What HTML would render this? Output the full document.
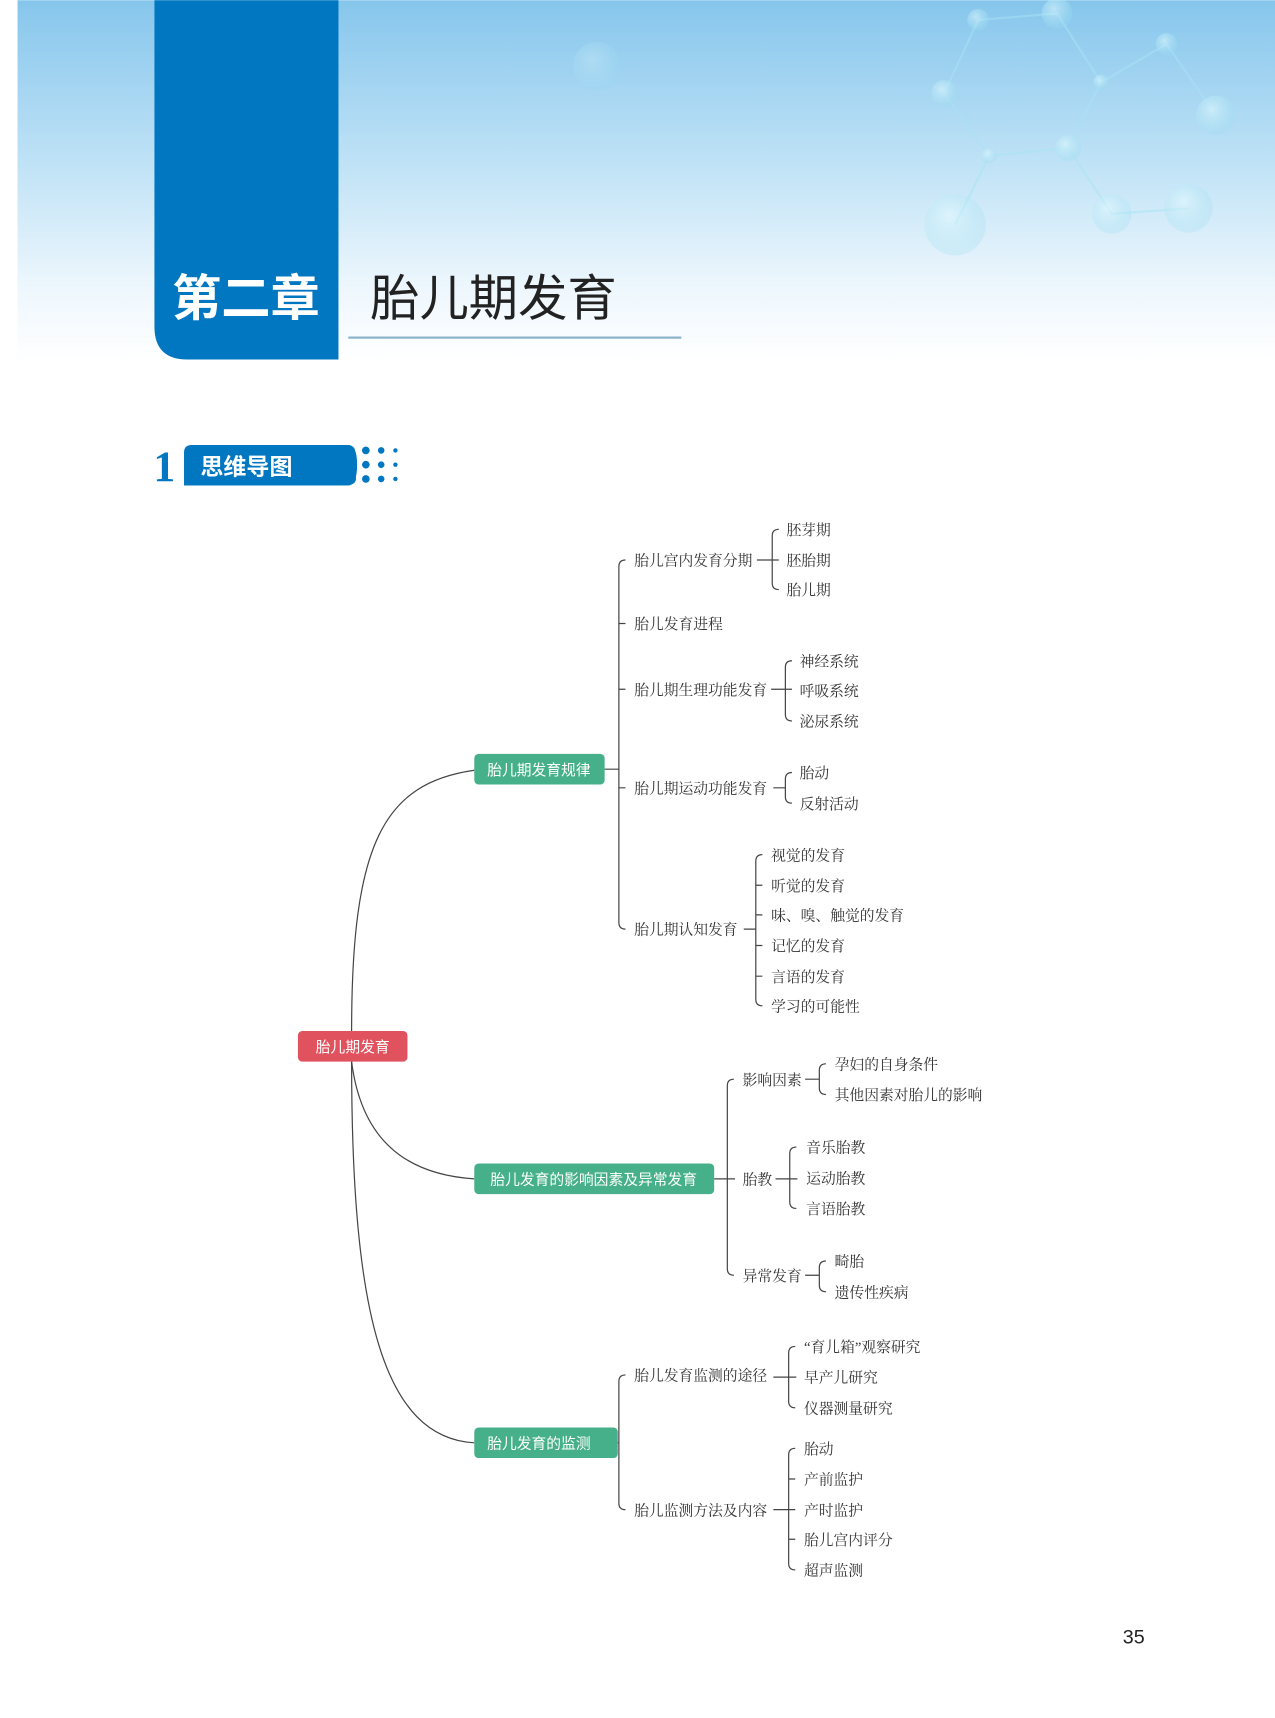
<!DOCTYPE html>
<html><head><meta charset="utf-8"><style>
html,body{margin:0;padding:0;background:#fff;}
svg{display:block;}
.t{font-family:"Liberation Serif","Noto Serif CJK SC",serif;font-size:13.5px;fill:#333;dominant-baseline:central;transform:translateY(1.5px);}
.w{font-family:"Liberation Sans","Noto Sans CJK SC",sans-serif;font-size:13.5px;fill:#fff;dominant-baseline:central;text-anchor:middle;transform:translateY(1.5px);}
.l{fill:none;stroke:#444;stroke-width:1.1;}
</style></head><body>
<svg width="1275" height="1718" viewBox="0 0 1164 1568" xmlns="http://www.w3.org/2000/svg">
<defs>
<linearGradient id="hg" x1="0" y1="0" x2="0" y2="1">
<stop offset="0" stop-color="#86c6ec"/><stop offset="0.45" stop-color="#bfe2f6"/><stop offset="0.8" stop-color="#eef7fd"/><stop offset="1" stop-color="#ffffff"/>
</linearGradient>
<radialGradient id="bub" cx="0.4" cy="0.35" r="0.6"><stop offset="0" stop-color="#e8fbff"/><stop offset="1" stop-color="#9ee0f2" stop-opacity="0.5"/></radialGradient>
</defs>
<rect x="16" y="0" width="1148" height="330" fill="url(#hg)"/>
<g stroke="#a8e4f4" stroke-width="2" fill="none" opacity="0.5">
<path d="M893,18 L965,12 L1005,75 L975,135 L903,142 L862,85 Z"/>
<path d="M1005,75 L1065,40 L1110,105"/>
<path d="M975,135 L1015,195 L1085,190"/>
<path d="M903,142 L872,205"/>
</g>
<g fill="url(#bub)" opacity="0.55">
<circle cx="893" cy="18" r="10"/><circle cx="965" cy="12" r="14"/><circle cx="1005" cy="75" r="7"/><circle cx="975" cy="135" r="12"/><circle cx="903" cy="142" r="7"/><circle cx="862" cy="85" r="12"/><circle cx="1065" cy="40" r="10"/><circle cx="1110" cy="105" r="18"/><circle cx="1015" cy="195" r="18"/><circle cx="872" cy="205" r="28"/><circle cx="1085" cy="190" r="22"/><circle cx="545" cy="60" r="22" opacity="0.5"/>
</g>
<path d="M141,0 H309 V328 H171 Q141,328 141,298 Z" fill="#0077c0"/>
<text x="157" y="288" font-family="Liberation Sans,Noto Sans CJK SC,sans-serif" font-weight="bold" font-size="45" fill="#fff">第二章</text>
<text x="338" y="288" font-family="Liberation Sans,Noto Sans CJK SC,sans-serif" font-size="45" fill="#222">胎儿期发育</text>
<rect x="318" y="307" width="304" height="2" fill="#8ab2c8"/>
<text x="140" y="439" font-family="Liberation Serif,serif" font-weight="bold" font-size="40" fill="#0077c0">1</text>
<path d="M175,406 H318 Q326,406 326,424 Q326,443 318,443 H168 V413 Q168,406 175,406 Z" fill="#0077c0"/>
<text x="183" y="433" font-family="Liberation Sans,Noto Sans CJK SC,sans-serif" font-weight="bold" font-size="21" fill="#fff">思维导图</text>
<g fill="#0077c0">
<circle cx="320" cy="411" r="4"/><circle cx="320" cy="424" r="5"/><circle cx="320" cy="437" r="5"/>
<circle cx="334" cy="411" r="3.5"/><circle cx="334" cy="424" r="3.5"/><circle cx="334" cy="437" r="3.5"/>
<circle cx="348" cy="411" r="3"/><circle cx="348" cy="424" r="3"/><circle cx="348" cy="437" r="3"/>
<circle cx="361" cy="411" r="2"/><circle cx="361" cy="424" r="2"/><circle cx="361" cy="437" r="2"/>
</g>

<path class="l" d="M321,941 C321,770 350,715 433,703"/>
<path class="l" d="M321,969 C330,1040 370,1072 433,1076"/>
<path class="l" d="M321,969 C321,1200 350,1312 433,1317"/>

<rect x="272" y="941" width="100" height="28" rx="4" fill="#e0525e"/>
<text class="w" x="322" y="955">胎儿期发育</text>
<rect x="433" y="688" width="119" height="28" rx="4" fill="#45b08a"/>
<text class="w" x="492" y="702">胎儿期发育规律</text>
<rect x="433" y="1062" width="219" height="28" rx="4" fill="#45b08a"/>
<text class="w" x="542" y="1076">胎儿发育的影响因素及异常发育</text>
<rect x="433" y="1303" width="131" height="28" rx="4" fill="#45b08a"/>
<text class="w" x="492" y="1317">胎儿发育的监测</text>

<path class="l" d="M552,702 H565 M571,511 Q565,511 565,517 V842 Q565,848 571,848 M565,569 H571 M565,629 H571 M565,719 H571"/>
<text class="t" x="579" y="511">胎儿宫内发育分期</text>
<text class="t" x="579" y="569">胎儿发育进程</text>
<text class="t" x="579" y="629">胎儿期生理功能发育</text>
<text class="t" x="579" y="719">胎儿期运动功能发育</text>
<text class="t" x="579" y="848">胎儿期认知发育</text>

<path class="l" d="M691,511 H711 M711,483 Q705,483 705,489 V532 Q705,538 711,538"/>
<text class="t" x="718" y="483">胚芽期</text><text class="t" x="718" y="511">胚胎期</text><text class="t" x="718" y="538">胎儿期</text>

<path class="l" d="M704,629 H723 M723,603 Q717,603 717,609 V652 Q717,658 723,658"/>
<text class="t" x="730" y="603">神经系统</text><text class="t" x="730" y="630">呼吸系统</text><text class="t" x="730" y="658">泌尿系统</text>

<path class="l" d="M706,719 H717 M723,705 Q717,705 717,711 V727 Q717,733 723,733"/>
<text class="t" x="730" y="705">胎动</text><text class="t" x="730" y="733">反射活动</text>

<path class="l" d="M679,848 H690 M696,780 Q690,780 690,786 V912 Q690,918 696,918 M690,808 H696 M690,835 H696 M690,863 H696 M690,891 H696"/>
<text class="t" x="704" y="780">视觉的发育</text><text class="t" x="704" y="808">听觉的发育</text><text class="t" x="704" y="835">味、嗅、触觉的发育</text><text class="t" x="704" y="863">记忆的发育</text><text class="t" x="704" y="891">言语的发育</text><text class="t" x="704" y="918">学习的可能性</text>

<path class="l" d="M652,1076 H671 M670,985 Q664,985 664,991 V1158 Q664,1164 670,1164"/>
<text class="t" x="678" y="985">影响因素</text><text class="t" x="678" y="1076">胎教</text><text class="t" x="678" y="1164">异常发育</text>
<path class="l" d="M735,985 H748 M754,971 Q748,971 748,977 V993 Q748,999 754,999"/>
<text class="t" x="762" y="971">孕妇的自身条件</text><text class="t" x="762" y="999">其他因素对胎儿的影响</text>
<path class="l" d="M708,1076 H728 M727,1047 Q721,1047 721,1053 V1097 Q721,1103 727,1103"/>
<text class="t" x="736" y="1047">音乐胎教</text><text class="t" x="736" y="1075">运动胎教</text><text class="t" x="736" y="1103">言语胎教</text>
<path class="l" d="M735,1164 H748 M754,1151 Q748,1151 748,1157 V1173 Q748,1179 754,1179"/>
<text class="t" x="762" y="1151">畸胎</text><text class="t" x="762" y="1179">遗传性疾病</text>

<path class="l" d="M564,1317 H565 M571,1255 Q565,1255 565,1261 V1372 Q565,1378 571,1378"/>
<text class="t" x="579" y="1255">胎儿发育监测的途径</text><text class="t" x="579" y="1378">胎儿监测方法及内容</text>
<path class="l" d="M706,1257 H727 M726,1229 Q720,1229 720,1235 V1279 Q720,1285 726,1285"/>
<text class="t" x="734" y="1229">“育儿箱”观察研究</text><text class="t" x="734" y="1257">早产儿研究</text><text class="t" x="734" y="1285">仪器测量研究</text>
<path class="l" d="M706,1378 H726 M726,1322 Q720,1322 720,1328 V1427 Q720,1433 726,1433 M720,1350 H726 M720,1405 H726"/>
<text class="t" x="734" y="1322">胎动</text><text class="t" x="734" y="1350">产前监护</text><text class="t" x="734" y="1378">产时监护</text><text class="t" x="734" y="1405">胎儿宫内评分</text><text class="t" x="734" y="1433">超声监测</text>

<text x="1025" y="1500" font-family="Liberation Sans,sans-serif" font-size="18" fill="#222">35</text>
</svg>
</body></html>
